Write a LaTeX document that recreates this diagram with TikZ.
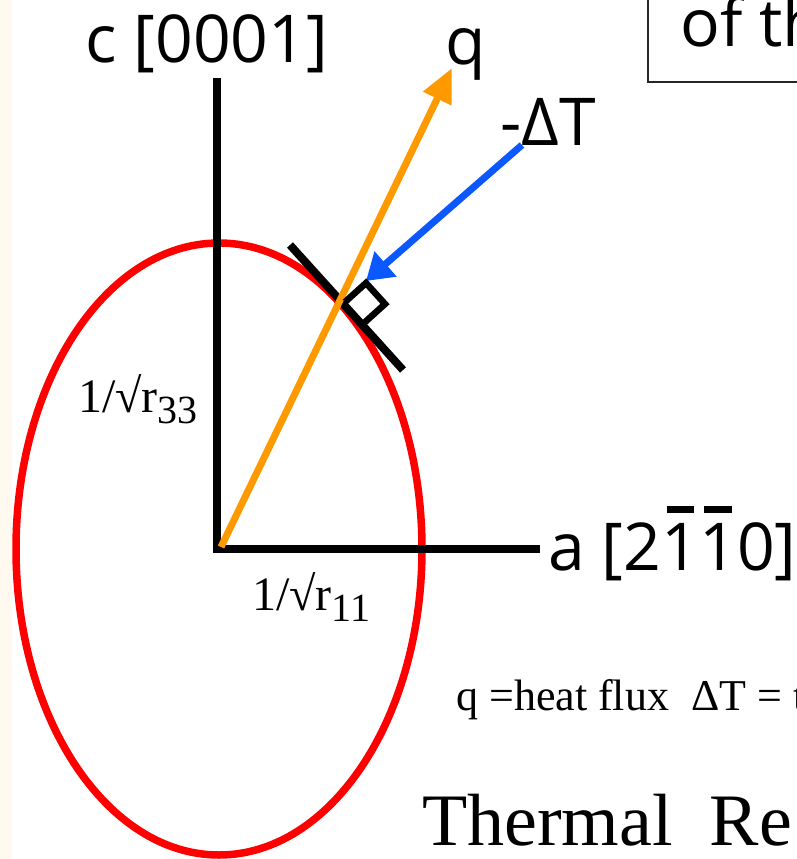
\documentclass[tikz,border=0pt]{standalone}
\usepackage{fontspec}
\setmainfont{Liberation Serif}
\newfontfamily\axfont{Open Sans}
\usetikzlibrary{arrows.meta}
\definecolor{ellred}{RGB}{255,0,0}
\definecolor{qorange}{RGB}{255,153,0}
\definecolor{tblue}{RGB}{12,88,255}
\definecolor{cream}{RGB}{255,249,240}
\newcommand\ovbar[1]{\setbox0\hbox{#1}\rlap{\hbox to \wd0{\hss\raisebox{0.86em}{\rule{0.42em}{0.11em}}\hss}}#1}
\begin{document}
\begin{tikzpicture}[x=1pt,y=-1pt,
  axisline/.style={line width=7.5pt, black, line join=miter},
  axlabel/.style={font=\axfont\fontsize{66}{72}\selectfont, inner sep=0pt, anchor=base west},
  serlabel/.style={font=\fontsize{48}{56}\selectfont, inner sep=0pt, anchor=base west},
  notelabel/.style={font=\fontsize{44}{50}\selectfont, inner sep=0pt, anchor=base west},
  titlelabel/.style={font=\fontsize{74}{80}\selectfont, inner sep=0pt, anchor=base west}]
\useasboundingbox (0,0) rectangle (797,859);
\clip (0,0) rectangle (797,859);
\fill[cream] (0,0) rectangle (12,859);

% coordinates
\coordinate (O) at (217,549);
\coordinate (ctop) at (217,78);
\coordinate (aend) at (540,549);
\coordinate (qs) at (221,547);
\coordinate (qe) at (452,68);
\coordinate (bs) at (522,145);
\coordinate (be) at (366,281);
\coordinate (t1) at (290,245);
\coordinate (t2) at (403,370);
\coordinate (sA) at (345,302);
\coordinate (sB) at (364,323);
\coordinate (sC) at (385,304);
\coordinate (sD) at (366,283);

% ellipse
\draw[ellred, line width=7.5pt] (219,549) ellipse [x radius=203pt, y radius=306pt];

% axes
\draw[axisline] (ctop) -- (O) -- (aend);

% tangent
\draw[line width=8pt] (t1) -- (t2);

% heat flux
\draw[qorange, line width=7pt, -{Triangle[length=34pt, width=30pt]}] (qs) -- (qe);

% gradient
\draw[tblue, line width=7pt, -{Triangle[length=26pt, width=32pt]}] (bs) -- (be);

% right angle mark
\draw[line width=6.5pt, line join=miter] (sA) -- (sD) -- (sC) -- (sB);

% labels
\node[axlabel] (clab) at (85,63) {c [0001]};
\node[axlabel] (qlab) at (445,64) {q};
\node[axlabel] (dTlab) at (500,145) {-ΔT};
\node[axlabel] (alab) at (548,570) {a [2\ovbar{1}\ovbar{1}0]};

\node[serlabel] (r33) at (78,412) {1/√r\raisebox{-11pt}{\fontsize{40}{44}\selectfont 33}};
\node[serlabel] (r11) at (252,610) {1/√r\raisebox{-11pt}{\fontsize{40}{44}\selectfont 11}};

\node[notelabel] (note) at (456,710) {q =heat flux\ \ ΔT = t};
\node[titlelabel] (title) at (422,845) {Thermal\ \ Re};

% top-right box
\draw[line width=1.5pt, black!85] (648,-5) rectangle (840,82);
\node[axlabel] (ofth) at (680,47) {of th};
\end{tikzpicture}
\end{document}
